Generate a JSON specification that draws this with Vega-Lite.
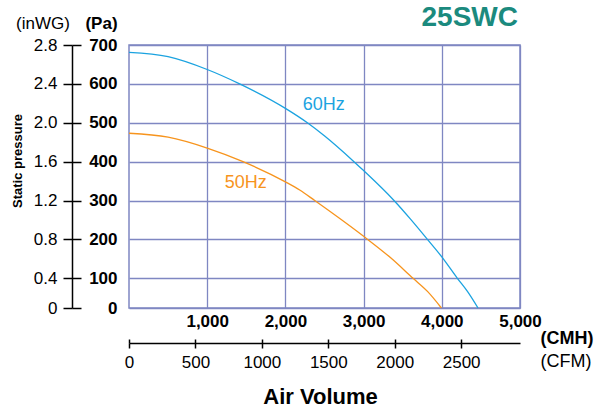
{
  "$schema": "https://vega.github.io/schema/vega-lite/v6.json",
  "autosize": {"type": "none"},
  "padding": {"left": 129, "top": 45, "right": 78, "bottom": 99},
  "width": 391,
  "height": 263,
  "background": "white",
  "config": {
    "font": "Liberation Sans",
    "view": {"stroke": "#7f87c2", "strokeWidth": 1.5},
    "axis": {"labelColor": "black", "titleColor": "black"}
  },
  "title": {
    "text": "25SWC",
    "anchor": "end",
    "frame": "group",
    "fontSize": 28,
    "fontWeight": "bold",
    "color": "#1b8a7e",
    "baseline": "alphabetic",
    "dx": -2,
    "offset": -39
  },
  "datasets": {
    "hz60": [
      {"cmh": 0, "pa": 681},
      {"cmh": 500, "pa": 670},
      {"cmh": 1000, "pa": 637},
      {"cmh": 1415, "pa": 600},
      {"cmh": 2000, "pa": 537},
      {"cmh": 2281, "pa": 500},
      {"cmh": 2502, "pa": 466},
      {"cmh": 2877, "pa": 400},
      {"cmh": 3000, "pa": 377},
      {"cmh": 3389, "pa": 300},
      {"cmh": 3600, "pa": 252},
      {"cmh": 3816, "pa": 200},
      {"cmh": 4000, "pa": 155},
      {"cmh": 4199, "pa": 100},
      {"cmh": 4330, "pa": 55},
      {"cmh": 4463, "pa": 0}
    ],
    "hz50": [
      {"cmh": 0, "pa": 473},
      {"cmh": 500, "pa": 463},
      {"cmh": 1000, "pa": 435},
      {"cmh": 1458, "pa": 400},
      {"cmh": 2000, "pa": 348},
      {"cmh": 2183, "pa": 327},
      {"cmh": 2375, "pa": 300},
      {"cmh": 2700, "pa": 253},
      {"cmh": 3000, "pa": 208},
      {"cmh": 3350, "pa": 152},
      {"cmh": 3632, "pa": 100},
      {"cmh": 3820, "pa": 55},
      {"cmh": 3995, "pa": 0}
    ],
    "labels": [
      {"cmh": 2221, "pa": 546, "series": "60Hz"},
      {"cmh": 1224, "pa": 346, "series": "50Hz"}
    ]
  },
  "resolve": {"axis": {"x": "independent", "y": "independent"}},
  "layer": [
    {
      "data": {"name": "hz60"},
      "mark": {"type": "line", "color": "#1ba3e0", "strokeWidth": 1.3, "interpolate": "monotone"},
      "encoding": {
        "x": {
          "field": "cmh", "type": "quantitative",
          "scale": {"domain": [0, 5000], "nice": false, "zero": false},
          "axis": {
            "orient": "bottom", "offset": 0, "values": [1000, 2000, 3000, 4000, 5000],
            "format": ",d", "domain": false, "ticks": false, "tickSize": 0,
            "labelPadding": 5, "labelFontSize": 17, "labelFontWeight": "bold", "labelDx": -2,
            "labelFlush": false, "labelOverlap": false,
            "grid": true, "gridColor": "#7f87c2", "gridWidth": 1.3,
            "title": "(CMH)", "titleX": 411, "titleY": 30.5, "titleAlign": "left",
            "titleBaseline": "middle", "titleFontSize": 18, "titleFontWeight": "bold"
          }
        },
        "y": {
          "field": "pa", "type": "quantitative",
          "scale": {"domain": [0, 100, 700], "range": [263, 233.3, 0], "nice": false, "zero": false},
          "axis": {
            "orient": "left", "offset": 0, "values": [0, 100, 200, 300, 400, 500, 600, 700],
            "domain": false, "ticks": false, "tickSize": 0,
            "labelPadding": 12, "labelFontSize": 17, "labelFontWeight": "bold",
            "labelFlush": false, "labelOverlap": false, "labelBaseline": "middle",
            "grid": true, "gridColor": "#7f87c2", "gridWidth": 1.3,
            "title": "(Pa)", "titleAngle": 0, "titleX": -28, "titleY": -21.5, "titleAlign": "center",
            "titleBaseline": "middle", "titleFontSize": 17, "titleFontWeight": "bold"
          }
        }
      }
    },
    {
      "data": {"name": "hz50"},
      "mark": {"type": "line", "color": "#f7941d", "strokeWidth": 1.3, "interpolate": "monotone"},
      "encoding": {
        "x": {
          "field": "cmh", "type": "quantitative",
          "scale": {"domain": [0, 5000], "nice": false, "zero": false},
          "axis": {
            "orient": "bottom", "offset": 35,
            "values": [0, 849.5, 1699, 2548.5, 3398, 4247.5],
            "labelExpr": "toString(round(datum.value / 1.699))",
            "domain": true, "domainColor": "black", "domainWidth": 1.5,
            "ticks": true, "tickColor": "black", "tickWidth": 1.5, "tickSize": 5,
            "labelPadding": 6, "labelFontSize": 17, "labelFontWeight": "normal",
            "labelFlush": false, "labelOverlap": false, "grid": false,
            "title": "Air Volume", "titleX": 191, "titleY": 53, "titleAlign": "center",
            "titleBaseline": "middle", "titleFontSize": 22, "titleFontWeight": "bold"
          }
        },
        "y": {
          "field": "pa", "type": "quantitative",
          "scale": {"domain": [0, 100, 700], "range": [263, 233.3, 0], "nice": false, "zero": false},
          "axis": {
            "orient": "left", "offset": 57, "values": [0, 100, 200, 300, 400, 500, 600, 700],
            "labelExpr": "datum.value == 0 ? '0' : format(datum.value * 0.004, '.1f')",
            "domain": true, "domainColor": "black", "domainWidth": 1.5,
            "ticks": true, "tickColor": "black", "tickWidth": 1.5, "tickSize": 9,
            "labelPadding": 6, "labelFontSize": 17, "labelFontWeight": "normal",
            "labelFlush": false, "labelOverlap": false, "labelBaseline": "middle", "grid": false,
            "title": "(inWG)", "titleAngle": 0, "titleX": -29.5, "titleY": -21.5, "titleAlign": "center",
            "titleBaseline": "middle", "titleFontSize": 17, "titleFontWeight": "normal"
          }
        }
      }
    },
    {
      "data": {"name": "labels"},
      "mark": {"type": "text", "align": "left", "baseline": "middle", "fontSize": 18},
      "encoding": {
        "text": {"field": "series"},
        "color": {
          "field": "series", "type": "nominal",
          "scale": {"domain": ["60Hz", "50Hz"], "range": ["#1ba3e0", "#f7941d"]},
          "legend": null
        },
        "x": {
          "field": "cmh", "type": "quantitative",
          "scale": {"domain": [0, 5000], "nice": false, "zero": false},
          "axis": {
            "orient": "bottom", "offset": 35,
            "values": [0, 849.5, 1699, 2548.5, 3398, 4247.5],
            "domain": false, "labels": false,
            "ticks": true, "tickColor": "black", "tickWidth": 1.5, "tickSize": -4,
            "grid": false,
            "title": "(CFM)", "titleX": 411, "titleY": 18, "titleAlign": "left",
            "titleBaseline": "middle", "titleFontSize": 18, "titleFontWeight": "normal"
          }
        },
        "y": {
          "field": "pa", "type": "quantitative",
          "scale": {"domain": [0, 100, 700], "range": [263, 233.3, 0], "nice": false, "zero": false},
          "axis": {
            "orient": "left", "offset": 57, "values": [0, 100, 200, 300, 400, 500, 600, 700],
            "domain": false, "labels": false,
            "ticks": true, "tickColor": "black", "tickWidth": 1.5, "tickSize": -9,
            "grid": false,
            "title": "Static pressure", "titleAngle": -90, "titleX": -55, "titleY": 115.5,
            "titleAlign": "center", "titleBaseline": "middle", "titleFontSize": 13, "titleFontWeight": "bold"
          }
        }
      }
    }
  ]
}
